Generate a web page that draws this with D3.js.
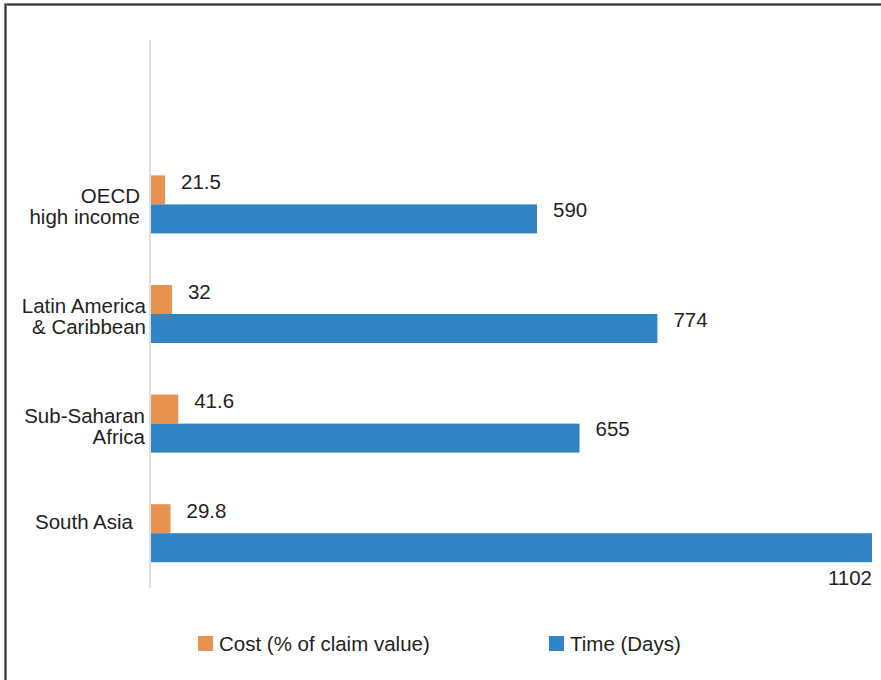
<!DOCTYPE html>
<html>
<head>
<meta charset="utf-8">
<script src="https://cdn.jsdelivr.net/npm/d3@7"></script>
<style>
  body { margin: 0; background: #fff; }
  text { font-family: "Liberation Sans", Arial, sans-serif; fill: #231f20; }
</style>
</head>
<body>
<div id="chart"></div>
<script>
// data
const regions = ['OECD high income', 'Latin America & Caribbean', 'Sub-Saharan Africa', 'South Asia'];
const region_lines = [['OECD', 'high income'], ['Latin America', '& Caribbean'], ['Sub-Saharan', 'Africa'], ['South Asia']];
const cost = [21.5, 32, 41.6, 29.8];
const time_days = [590, 774, 655, 1102];
const series_names = ['Cost (% of claim value)', 'Time (Days)'];
const colors = ['#e8924f', '#3185c5'];

const width = 881, height = 680;
const fs = 20.5;

const svg = d3.select('#chart')
    .append('svg')
    .attr('width', width)
    .attr('height', height);

// frame (only top and left edges show in the picture)
svg.append('line').attr('x1', 4).attr('x2', width).attr('y1', 4.5).attr('y2', 4.5)
    .attr('stroke', '#9a9a9a').attr('stroke-width', 3);
svg.append('line').attr('x1', 5).attr('x2', width).attr('y1', 4.5).attr('y2', 4.5)
    .attr('stroke', '#333').attr('stroke-width', 1.5);
svg.append('line').attr('x1', 5.5).attr('x2', 5.5).attr('y1', 3).attr('y2', height)
    .attr('stroke', '#9a9a9a').attr('stroke-width', 3);
svg.append('line').attr('x1', 5.5).attr('x2', 5.5).attr('y1', 4).attr('y2', height)
    .attr('stroke', '#333').attr('stroke-width', 1.5);

const x = d3.scaleLinear()
    .domain([0, 1102])
    .range([151, 872]);

// top slot of the plot is empty
const y = d3.scaleBand()
    .domain(regions)
    .range([149.6, 588]);

const barH = 29;
const labelRight = [140, 146, 145, 133];

// axis line
svg.append('line')
    .attr('x1', 150).attr('x2', 150)
    .attr('y1', 40).attr('y2', 588)
    .attr('stroke', '#dcdee3').attr('stroke-width', 2);

const groups = svg.selectAll('g.region')
    .data(regions)
    .enter()
    .append('g')
    .attr('class', 'region');

groups.each(function (r, i) {
    const g = d3.select(this);
    const mid = y(r) + y.bandwidth() / 2;

    // cost bar
    g.append('rect')
        .attr('x', x(0))
        .attr('y', mid - barH)
        .attr('width', x(cost[i]) - x(0))
        .attr('height', barH)
        .attr('fill', colors[0]);
    g.append('text')
        .attr('x', x(cost[i]) + 16)
        .attr('y', mid - barH + 13.5)
        .attr('font-size', fs)
        .text(cost[i]);

    // time bar
    g.append('rect')
        .attr('x', x(0))
        .attr('y', mid)
        .attr('width', x(time_days[i]) - x(0))
        .attr('height', barH)
        .attr('fill', colors[1]);
    const last = x(time_days[i]) > 800;
    g.append('text')
        .attr('x', last ? x(time_days[i]) : x(time_days[i]) + 16)
        .attr('y', last ? mid + barH + 23 : mid + 12.5)
        .attr('text-anchor', last ? 'end' : 'start')
        .attr('font-size', fs)
        .text(time_days[i]);

    // category label
    const lines = region_lines[i];
    const y0 = lines.length > 1 ? mid - 1 : mid - 4;
    lines.forEach((ln, k) => {
        g.append('text')
            .attr('x', labelRight[i])
            .attr('y', y0 + k * 21)
            .attr('text-anchor', 'end')
            .attr('font-size', fs)
            .text(ln);
    });
});

// legend
const legendX = [198, 549];
series_names.forEach((name, i) => {
    svg.append('rect')
        .attr('x', legendX[i]).attr('y', 636)
        .attr('width', 15).attr('height', 15)
        .attr('fill', colors[i]);
    svg.append('text')
        .attr('x', legendX[i] + 21)
        .attr('y', 651)
        .attr('font-size', fs)
        .text(name);
});
</script>
</body>
</html>
